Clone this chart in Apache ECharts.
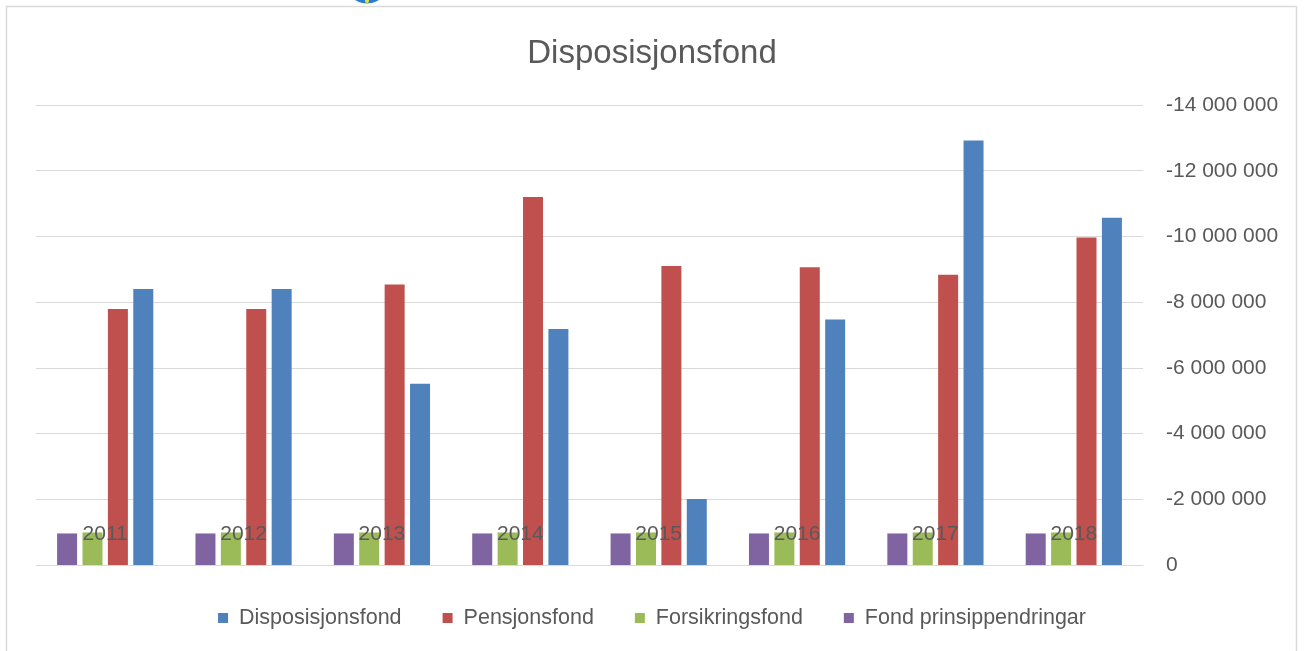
<!DOCTYPE html>
<html>
<head>
<meta charset="utf-8">
<script src="https://cdn.jsdelivr.net/npm/echarts@6/dist/echarts.min.js"></script>
<style>
html,body{margin:0;padding:0;background:#fff;}
#chart{width:1304px;height:651px;}
</style>
</head>
<body>
<div id="chart"></div>
<script>
const categories = ['2011', '2012', '2013', '2014', '2015', '2016', '2017', '2018'];
const disposisjonsfond = [-8400000, -8400000, -5520000, -7180000, -2010000, -7470000, -12920000, -10570000];
const pensjonsfond = [-7790000, -7790000, -8540000, -11200000, -9100000, -9060000, -8830000, -9970000];
const forsikringsfond = [-990000, -990000, -990000, -990000, -990000, -990000, -990000, -990000];
const fondPrinsippendringar = [-960000, -960000, -960000, -960000, -960000, -960000, -960000, -960000];
const legendOrder = ['Disposisjonsfond', 'Pensjonsfond', 'Forsikringsfond', 'Fond prinsippendringar'];
const titleText = 'Disposisjonsfond';

const FONT = '"Liberation Sans", Arial, sans-serif';
const TXT = '#595959';
const GRID = '#d9d9d9';

function fmt(v) {
  const neg = v < 0;
  const s = String(Math.round(Math.abs(v))).replace(/\B(?=(\d{3})+(?!\d))/g, ' ');
  return (neg ? '-' : '') + s;
}

const chart = echarts.init(document.getElementById('chart'), null, {renderer: 'canvas'});
const barCommon = {type: 'bar', barWidth: 20, barGap: '27%', z: 2};
chart.setOption({
  animation: false,
  backgroundColor: '#ffffff',
  title: {
    text: titleText,
    left: 'center',
    top: 32,
    textStyle: {fontFamily: FONT, fontSize: 33, fontWeight: 'normal', color: TXT}
  },
  legend: {
    data: legendOrder,
    left: 'center',
    top: 602,
    icon: 'rect',
    itemWidth: 10,
    itemHeight: 10,
    itemGap: 41,
    textStyle: {fontFamily: FONT, fontSize: 21.5, color: TXT, padding: [0, 0, 0, 6]}
  },
  grid: {left: 36, right: 161, top: 105, bottom: 86, containLabel: false},
  xAxis: {
    type: 'category',
    data: categories,
    z: 5,
    axisLine: {show: true, lineStyle: {color: GRID, width: 1.2}},
    axisTick: {show: false},
    axisLabel: {
      inside: true,
      margin: 31,
      verticalAlign: 'middle',
      fontFamily: FONT,
      fontSize: 21,
      color: TXT
    },
    splitLine: {show: false}
  },
  yAxis: {
    type: 'value',
    position: 'right',
    inverse: true,
    min: -14000000,
    max: 0,
    interval: 2000000,
    axisLine: {show: false},
    axisTick: {show: false},
    axisLabel: {
      margin: 23,
      align: 'left',
      fontFamily: FONT,
      fontSize: 21,
      color: TXT,
      formatter: fmt
    },
    splitLine: {show: true, lineStyle: {color: GRID, width: 1.2}}
  },
  series: [
    Object.assign({name: 'Fond prinsippendringar', data: fondPrinsippendringar, itemStyle: {color: '#8064A2'}}, barCommon),
    Object.assign({name: 'Forsikringsfond', data: forsikringsfond, itemStyle: {color: '#9BBB59'}}, barCommon),
    Object.assign({name: 'Pensjonsfond', data: pensjonsfond, itemStyle: {color: '#C0504D'}}, barCommon),
    Object.assign({name: 'Disposisjonsfond', data: disposisjonsfond, itemStyle: {color: '#4F81BD'}}, barCommon)
  ],
  graphic: [
    {type: 'rect', z: 0, silent: true,
     shape: {x: 6.5, y: 6.5, width: 1290, height: 700},
     style: {fill: null, stroke: GRID, lineWidth: 1.5}},
    {type: 'ellipse', z: 10, silent: true,
     shape: {cx: 367, cy: -14, rx: 20, ry: 18},
     style: {fill: '#2a7bd0', stroke: '#ffffff', lineWidth: 1}},
    {type: 'circle', z: 11, silent: true,
     shape: {cx: 367, cy: 1, r: 2},
     style: {fill: '#e8e23a'}}
  ]
});
</script>
</body>
</html>
